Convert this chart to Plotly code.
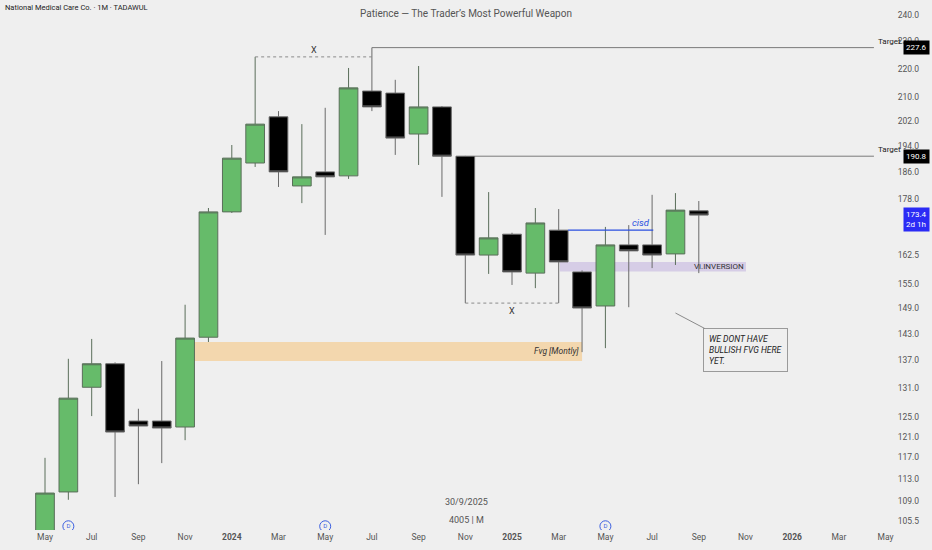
import math
import plotly.graph_objects as go

# ---------------- data ----------------
months = ["2023-05", "2023-06", "2023-07", "2023-08", "2023-09", "2023-10", "2023-11", "2023-12",
          "2024-01", "2024-02", "2024-03", "2024-04", "2024-05", "2024-06", "2024-07", "2024-08",
          "2024-09", "2024-10", "2024-11", "2024-12", "2025-01", "2025-02", "2025-03", "2025-04",
          "2025-05", "2025-06", "2025-07", "2025-08", "2025-09"]
opens = [102.0, 110.6, 131.1, 136.2, 124.1, 124.1, 122.9, 142.2,
         174.3, 188.7, 203.4, 181.8, 186.0, 184.8, 212.1, 211.4,
         197.8, 206.7, 190.8, 162.5, 168.1, 157.8, 169.2, 158.1,
         149.6, 165.2, 165.2, 162.8, 174.6]
highs = [116.9, 137.3, 141.8, 136.5, 126.6, 136.8, 149.9, 175.4,
         194.3, 224.2, 205.3, 201.0, 206.4, 220.2, 227.6, 216.0,
         220.9, 207.0, 190.9, 180.0, 168.5, 175.4, 175.1, 158.5,
         170.1, 170.6, 179.2, 179.7, 177.4]
lows = [100.5, 109.2, 125.1, 109.7, 112.0, 115.9, 120.3, 141.1,
        174.0, 187.5, 181.5, 176.8, 167.9, 183.9, 205.3, 191.2,
        188.1, 178.6, 150.3, 157.6, 154.8, 154.0, 150.3, 138.8,
        139.7, 149.3, 159.1, 159.9, 157.8]
closes = [110.4, 128.8, 136.2, 121.9, 123.1, 122.7, 142.0, 174.3,
          190.2, 201.0, 186.0, 184.5, 184.5, 213.2, 206.7, 196.5,
          206.7, 190.8, 162.5, 167.1, 158.1, 171.2, 160.7, 149.1,
          165.2, 163.6, 162.5, 174.8, 173.4]

# x-axis ticks (month index from May 2023) and labels
x_tick_idx = [0, 2, 4, 6, 8, 10, 12, 14, 16, 18, 20, 22, 24, 26, 28, 30, 32, 34, 36]
x_tick_text = ["May", "Jul", "Sep", "Nov", "<b>2024</b>", "Mar", "May", "Jul", "Sep", "Nov",
               "<b>2025</b>", "Mar", "May", "Jul", "Sep", "Nov", "<b>2026</b>", "Mar", "May"]

# price scale ticks
y_ticks = [240, 230, 220, 210, 202, 194, 186, 178, 162.5, 155, 149, 143, 137, 131,
           125, 121, 117, 113, 109, 105.5]

# key levels
target_high = 227.6
target_low = 190.8
x_high_level = 224.2
x_low_level = 150.3
cisd_level = 169.2
inversion_band = (158.2, 160.7)
fvg_band = (136.8, 141.1)
last_price = 173.4
dividend_months = ["2023-06", "2024-05", "2025-05"]

# ---------------- figure ----------------
xi = list(range(len(months)))
idx = {m: i for i, m in enumerate(months)}
BG = "#efefef"
FONT = "Roboto"
X_END = 35.5          # right end of the drawing area (before the price scale)
INV_END = idx["2025-09"] + 2.02

fig = go.Figure()
fig.add_trace(go.Candlestick(
    x=xi, open=opens, high=highs, low=lows, close=closes,
    increasing=dict(fillcolor="#66bb6a", line=dict(color="#5a6e5a", width=1)),
    decreasing=dict(fillcolor="#000000", line=dict(color="#6a6a6a", width=1)),
    whiskerwidth=0, showlegend=False, hoverinfo="skip",
))

# dividend markers
fig.add_trace(go.Scatter(
    x=[idx[m] for m in dividend_months], y=[104.6] * len(dividend_months),
    mode="markers+text", text=["D"] * len(dividend_months), textposition="middle center",
    textfont=dict(size=6, color="#3a5ee0", family=FONT),
    marker=dict(symbol="circle-open", size=11, color="#3a5ee0", line=dict(width=1)),
    showlegend=False, hoverinfo="skip",
))

shapes = []
shapes.append(dict(type="rect", xref="x", yref="y", x0=idx["2023-11"] + 0.05, x1=idx["2025-04"],
                   y0=fvg_band[0], y1=fvg_band[1], fillcolor="#f3d7ae", line=dict(width=0), layer="below"))
shapes.append(dict(type="rect", xref="x", yref="y", x0=idx["2025-03"] + 0.05, x1=INV_END,
                   y0=inversion_band[0], y1=inversion_band[1], fillcolor="#d6cde6", line=dict(width=0),
                   layer="below"))
shapes.append(dict(type="line", xref="x", yref="y", x0=idx["2024-07"], x1=X_END,
                   y0=target_high, y1=target_high, line=dict(color="#7a7a7a", width=1)))
shapes.append(dict(type="line", xref="x", yref="y", x0=idx["2024-11"] + 0.4, x1=X_END,
                   y0=target_low, y1=target_low, line=dict(color="#7a7a7a", width=1)))
shapes.append(dict(type="line", xref="x", yref="y", x0=idx["2024-02"], x1=idx["2024-07"],
                   y0=x_high_level, y1=x_high_level, line=dict(color="#8a8a8a", width=1, dash="dot")))
shapes.append(dict(type="line", xref="x", yref="y", x0=idx["2024-11"], x1=idx["2025-03"],
                   y0=x_low_level, y1=x_low_level, line=dict(color="#8a8a8a", width=1, dash="dot")))
shapes.append(dict(type="line", xref="x", yref="y", x0=idx["2025-03"] + 0.4, x1=idx["2025-07"] + 0.05,
                   y0=cisd_level, y1=cisd_level, line=dict(color="#2a4fe0", width=1.3)))

L = math.log10
annotations = [
    dict(text="National Medical Care Co. · 1M · TADAWUL", xref="paper", yref="paper", x=0.003, y=0.985,
         xanchor="left", yanchor="middle", showarrow=False, font=dict(size=7.5, color="#222", family=FONT)),
    dict(text="Patience — The Trader’s Most Powerful Weapon", xref="paper", yref="paper", x=0.5, y=0.974,
         xanchor="center", yanchor="middle", showarrow=False, font=dict(size=10, color="#555", family=FONT)),
    dict(text="30/9/2025", xref="paper", yref="paper", x=0.5, y=0.053, xanchor="center", yanchor="middle",
         showarrow=False, font=dict(size=9, color="#555", family=FONT)),
    dict(text="4005 | M", xref="paper", yref="paper", x=0.5, y=0.019, xanchor="center", yanchor="middle",
         showarrow=False, font=dict(size=9, color="#555", family=FONT)),
    dict(text="X", xref="x", yref="y", x=(idx["2024-02"] + idx["2024-07"]) / 2, y=L(x_high_level),
         yanchor="bottom", showarrow=False, font=dict(size=9, color="#333", family=FONT)),
    dict(text="X", xref="x", yref="y", x=(idx["2024-11"] + idx["2025-03"]) / 2, y=L(x_low_level),
         yanchor="top", showarrow=False, yshift=-1, font=dict(size=9, color="#333", family=FONT)),
    dict(text="<i>cisd</i>", xref="x", yref="y", x=idx["2025-07"], y=L(cisd_level), xanchor="right",
         yanchor="bottom", showarrow=False, font=dict(size=9.5, color="#2a4fe0", family=FONT)),
    dict(text="Vi.INVERSION", xref="x", yref="y", x=INV_END, y=L(sum(inversion_band) / 2),
         xanchor="right", yanchor="middle", showarrow=False, font=dict(size=8, color="#333", family=FONT)),
    dict(text="<i>Fvg [Montly]</i>", xref="x", yref="y", x=idx["2025-04"] - 0.05, y=L(sum(fvg_band) / 2),
         xanchor="right", yanchor="middle", showarrow=False, font=dict(size=8.5, color="#333", family=FONT)),
    dict(text="Target", xref="paper", yref="y", x=0.969, y=L(target_high), xanchor="right", yanchor="bottom",
         showarrow=False, font=dict(size=8, color="#222", family=FONT)),
    dict(text="Target", xref="paper", yref="y", x=0.969, y=L(target_low), xanchor="right", yanchor="bottom",
         showarrow=False, font=dict(size=8, color="#222", family=FONT)),
    dict(text=f"{target_high:.1f}", xref="paper", yref="y", x=0.998, y=L(target_high), xanchor="right",
         yanchor="middle", showarrow=False, bgcolor="#000", borderpad=2,
         font=dict(size=8, color="#fff", family=FONT)),
    dict(text=f"{target_low:.1f}", xref="paper", yref="y", x=0.998, y=L(target_low), xanchor="right",
         yanchor="middle", showarrow=False, bgcolor="#000", borderpad=2,
         font=dict(size=8, color="#fff", family=FONT)),
    dict(text=f"{last_price:.1f}<br>2d 1h", xref="paper", yref="y", x=0.998, y=L(last_price), xanchor="right",
         yanchor="top", yshift=8, showarrow=False, bgcolor="#2b2bf5", borderpad=2, align="left",
         font=dict(size=8, color="#fff", family=FONT)),
    dict(text="<i>WE DONT HAVE<br>BULLISH FVG HERE<br>YET.</i>", xref="x", yref="y",
         x=idx["2025-08"], y=L(147.9), ax=70, ay=37, showarrow=True, arrowhead=0, arrowwidth=1,
         arrowcolor="#8a8a8a", align="left", bgcolor=BG, bordercolor="#9a9a9a", borderwidth=1,
         borderpad=5, font=dict(size=8.5, color="#222", family=FONT)),
]

fig.update_layout(
    width=932, height=550,
    margin=dict(l=0, r=0, t=0, b=20),
    paper_bgcolor=BG, plot_bgcolor=BG,
    showlegend=False,
    boxgap=0.2, boxgroupgap=0,
    shapes=shapes, annotations=annotations,
    xaxis=dict(range=[-1.927, 37.987], tickvals=x_tick_idx, ticktext=x_tick_text, showgrid=False,
               zeroline=False, showline=False, ticks="", rangeslider=dict(visible=False),
               tickfont=dict(size=8.5, color="#555", family=FONT), fixedrange=True),
    yaxis=dict(type="log", range=[L(103.97), L(245.9)], side="right", tickvals=y_ticks,
               ticktext=[f"{v:.1f}" for v in y_ticks], ticklabelposition="inside", ticklabelstandoff=10,
               showgrid=False, zeroline=False, showline=False, ticks="",
               tickfont=dict(size=8.5, color="#555", family=FONT)),
)

fig.write_html("out.html", config={"displayModeBar": False},
               post_script="document.body.style.margin='0';document.body.style.background='%s';" % BG)
